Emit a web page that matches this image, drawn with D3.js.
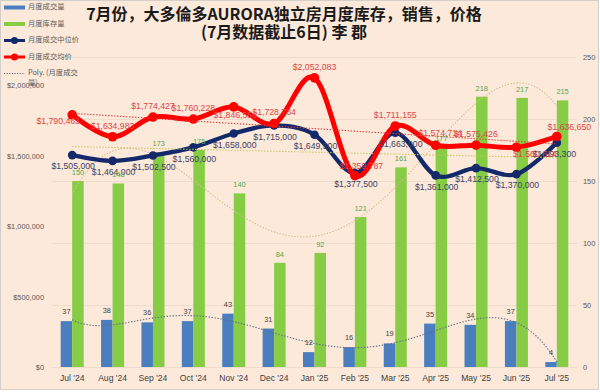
<!DOCTYPE html>
<html><head><meta charset="utf-8">
<script src="https://cdn.jsdelivr.net/npm/d3@7"></script>
<style>html,body{margin:0;padding:0;background:#fff;}svg{display:block;}</style>
</head><body><svg id="c" width="600" height="392"></svg>
<script>
const categories = ["Jul '24","Aug '24","Sep '24","Oct '24","Nov '24","Dec '24","Jan '25","Feb '25","Mar '25","Apr '25","May '25","Jun '25","Jul '25"];
const salesVolume = [37,38,36,37,43,31,12,16,19,35,34,37,4];
const inventory = [150,148,173,175,140,84,92,121,161,177,218,217,215];
const medianPrice = [1505000,1464000,1502500,1560000,1658000,1715000,1649500,1377500,1663000,1361000,1412500,1370000,1593300];
const avgPrice = [1790463,1634983,1774427,1760228,1846556,1728734,2052083,1359787,1711155,1574714,1575426,1560614,1636650];
const leftTicks = [0,500000,1000000,1500000,2000000];
const rightTicks = [0,50,100,150,200,250];
const titleLines = ["7月份，大多倫多AURORA独立房月度库存，销售，价格","(7月数据截止6日) 李 郡"];
const legendNames = ["月度成交量","月度库存量","月度成交中位价","月度成交均价","Poly. (月度成交","量)"];

const svg = d3.select("#c");
svg.append("rect").attr("x",0.5).attr("y",0.5).attr("width",598).attr("height",389)
  .attr("fill","#fce9da").attr("stroke","#d4cfcb");

const x = d3.scaleBand().domain(categories).range([52,577]).padding(0);
const step = x.step();
const xc = i => x(categories[i]) + step/2;
const yL = d3.scaleLinear().domain([0,2200000]).range([367.5,57]);
const yR = d3.scaleLinear().domain([0,250]).range([367,57]);

// gridlines
svg.append("g").selectAll("line").data(rightTicks).join("line")
  .attr("x1",52).attr("x2",577).attr("y1",d=>yR(d)+0.5).attr("y2",d=>yR(d)+0.5)
  .attr("stroke","#efdccd").attr("stroke-width",1);

// axes
const fontAxis = "'Liberation Sans',Arial,sans-serif";
const fontLab = "'Liberation Sans',Arial,sans-serif";
const gl = svg.append("g").attr("transform","translate(45,0)")
  .call(d3.axisLeft(yL).tickValues(leftTicks).tickFormat(d3.format("$,")).tickSize(0).tickPadding(1));
gl.select(".domain").remove();
gl.selectAll("text").attr("font-family",fontAxis).attr("font-size",7.4).attr("fill","#595959");
const gr = svg.append("g").attr("transform","translate(580,0)")
  .call(d3.axisRight(yR).tickValues(rightTicks).tickSize(0).tickPadding(3));
gr.select(".domain").remove();
gr.selectAll("text").attr("font-family",fontAxis).attr("font-size",7.4).attr("fill","#595959");
const gb = svg.append("g").attr("transform","translate(0,372)")
  .call(d3.axisBottom(x).tickSize(0).tickPadding(3));
gb.select(".domain").remove();
gb.selectAll("text").attr("font-family",fontLab).attr("font-size",8.6).attr("fill","#404040");

// bars
const bw = step*0.285;
svg.append("g").selectAll("rect").data(salesVolume).join("rect")
  .attr("x",(d,i)=>xc(i)-bw).attr("width",bw)
  .attr("y",d=>yR(d)).attr("height",d=>yR(0)-yR(d)).attr("fill","#4a7ebf");
svg.append("g").selectAll("rect").data(inventory).join("rect")
  .attr("x",(d,i)=>xc(i)).attr("width",bw)
  .attr("y",d=>yR(d)).attr("height",d=>yR(0)-yR(d)).attr("fill","#86cc45");

// polynomial least squares (trendlines)
function polyfit(ys, order){
  const n = ys.length, c = (n-1)/2;
  const t = ys.map((_,i)=>(i-c)/c);
  const m = order+1;
  const A = Array.from({length:m},()=>new Array(m+1).fill(0));
  for(let j=0;j<m;j++){
    for(let k=0;k<m;k++){ let s=0; for(let i=0;i<n;i++) s+=Math.pow(t[i],j+k); A[j][k]=s; }
    let s=0; for(let i=0;i<n;i++) s+=ys[i]*Math.pow(t[i],j); A[j][m]=s;
  }
  for(let col=0;col<m;col++){
    let p=col; for(let r=col+1;r<m;r++) if(Math.abs(A[r][col])>Math.abs(A[p][col])) p=r;
    [A[col],A[p]]=[A[p],A[col]];
    for(let r=0;r<m;r++){ if(r===col) continue; const f=A[r][col]/A[col][col];
      for(let k=col;k<=m;k++) A[r][k]-=f*A[col][k]; }
  }
  const coef = A.map((row,j)=>row[m]/row[j]);
  return u => { const tt=(u-c)/c; let s=0; for(let j=0;j<m;j++) s+=coef[j]*Math.pow(tt,j); return s; };
}
function trend(ys, order, yscale, color){
  const f = polyfit(ys, order);
  const pts = d3.range(0, ys.length-1+0.001, 0.05).map(u=>[xc(0)+u*step, yscale(f(u))]);
  svg.append("path").attr("d", d3.line()(pts)).attr("fill","none")
    .attr("stroke",color).attr("stroke-width",1.1).attr("stroke-dasharray","1.4,1.6");
}
trend(inventory, 4, yR, "#d2bf8c");
trend(salesVolume, 6, yR, "#5f6e86");

// lines
const curve = d3.curveCardinal.tension(0);
function series(vals, color, width, r){
  svg.append("path").attr("d", d3.line().x((d,i)=>xc(i)).y(d=>yL(d)).curve(curve)(vals))
    .attr("fill","none").attr("stroke",color).attr("stroke-width",width).attr("stroke-linejoin","round");
  svg.append("g").selectAll("circle").data(vals).join("circle")
    .attr("cx",(d,i)=>xc(i)).attr("cy",d=>yL(d)).attr("r",r).attr("fill",color);
}
series(medianPrice, "#13296a", 4.3, 4.3);
trend(medianPrice, 1, yL, "#c4c862");
series(avgPrice, "#ff0000", 5, 4.8);
trend(avgPrice, 1, yL, "#e23a3a");

// labels
const money = d3.format("$,");
const redNudge = {0:[-14,17.5],4:[1.5,19.5],7:[6.5,1.5],9:[4.5,-1.5],11:[18.5,17.5],12:[12.5,1.5]};
const navyNudge = {8:[4.5,0],12:[-3.5,0]};
svg.append("g").selectAll("text").data(medianPrice).join("text")
  .attr("x",(d,i)=>xc(i)+1+(navyNudge[i]?navyNudge[i][0]:0))
  .attr("y",(d,i)=>yL(d)+12+(navyNudge[i]?navyNudge[i][1]:0))
  .attr("text-anchor","middle").attr("dominant-baseline","middle")
  .attr("font-family",fontLab).attr("font-size",8.7).attr("fill","#3c4262").text(d=>money(d));
svg.append("g").selectAll("text").data(avgPrice).join("text")
  .attr("x",(d,i)=>xc(i)+(redNudge[i]?redNudge[i][0]:0))
  .attr("y",(d,i)=>yL(d)-10.5+(redNudge[i]?redNudge[i][1]:0))
  .attr("text-anchor","middle").attr("dominant-baseline","middle")
  .attr("font-family",fontLab).attr("font-size",8.7).attr("fill","#dd4646").text(d=>money(d));
svg.append("g").selectAll("text").data(inventory).join("text")
  .attr("x",(d,i)=>xc(i)+bw/2).attr("y",d=>yR(d)-8)
  .attr("text-anchor","middle").attr("dominant-baseline","middle")
  .attr("font-family",fontLab).attr("font-size",7.4).attr("fill","#4fa84f").text(d=>d);
svg.append("g").selectAll("text").data(salesVolume).join("text")
  .attr("x",(d,i)=>xc(i)-bw/2).attr("y",d=>yR(d)-9)
  .attr("text-anchor","middle").attr("dominant-baseline","middle")
  .attr("font-family",fontLab).attr("font-size",7.4).attr("fill","#404040").text(d=>d);

// title
const tf = "'Noto Sans CJK SC','Noto Sans',sans-serif";
svg.append("text").attr("x",284).attr("y",20).attr("text-anchor","middle")
  .attr("font-family",tf).attr("font-weight",700).attr("font-size",16).attr("fill","#1a1a1a").text(titleLines[0]);
svg.append("text").attr("x",284).attr("y",38).attr("text-anchor","middle")
  .attr("font-family",tf).attr("font-weight",700).attr("font-size",16).attr("fill","#1a1a1a").text(titleLines[1]);

// legend
const lg = svg.append("g");
const ly = [7.5,24,40.5,57,73.5];
const lf = "'Noto Sans CJK SC',sans-serif";
lg.append("line").attr("x1",4).attr("x2",25).attr("y1",ly[0]).attr("y2",ly[0]).attr("stroke","#4a7ebf").attr("stroke-width",4);
lg.append("line").attr("x1",4).attr("x2",25).attr("y1",ly[1]).attr("y2",ly[1]).attr("stroke","#86cc45").attr("stroke-width",4);
lg.append("line").attr("x1",4).attr("x2",25).attr("y1",ly[2]).attr("y2",ly[2]).attr("stroke","#13296a").attr("stroke-width",3);
lg.append("circle").attr("cx",14.5).attr("cy",ly[2]).attr("r",3.5).attr("fill","#13296a");
lg.append("line").attr("x1",4).attr("x2",25).attr("y1",ly[3]).attr("y2",ly[3]).attr("stroke","#ff0000").attr("stroke-width",3);
lg.append("circle").attr("cx",14.5).attr("cy",ly[3]).attr("r",3.5).attr("fill","#ff0000");
lg.append("line").attr("x1",4).attr("x2",25).attr("y1",ly[4]).attr("y2",ly[4]).attr("stroke","#5f6e86").attr("stroke-width",1).attr("stroke-dasharray","1.2,1.4");
legendNames.forEach((n,i)=>{
  lg.append("text").attr("x",28).attr("y", i<5 ? ly[i] : 83.5).attr("dominant-baseline","middle")
    .attr("font-family",lf).attr("font-size",7.3).attr("fill","#595959").text(n);
});
</script></body></html>
